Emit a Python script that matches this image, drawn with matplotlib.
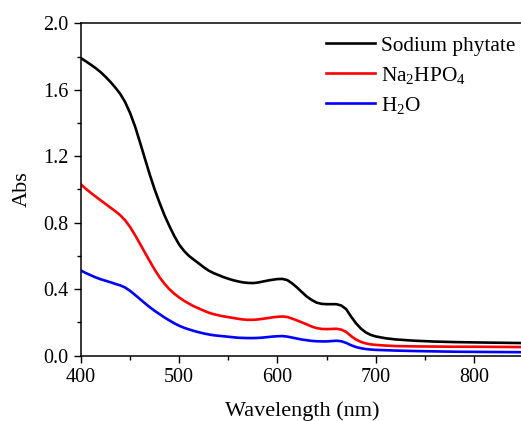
import matplotlib
matplotlib.use("Agg")
import matplotlib.pyplot as plt
from matplotlib.ticker import MultipleLocator

plt.rcParams['font.family'] = ['Liberation Serif', 'DejaVu Serif']
plt.rcParams['mathtext.fontset'] = 'custom'
plt.rcParams['mathtext.rm'] = 'Liberation Serif'
plt.rcParams['mathtext.it'] = 'Liberation Serif:italic'

wavelength = list(range(400, 705, 5)) + [710, 720, 740, 760, 780, 800, 825, 850]

sodium_phytate = [
    # 400-540
    1.79, 1.771, 1.751, 1.73, 1.706, 1.678, 1.647, 1.613, 1.575, 1.525, 1.46, 1.38, 1.285,
    1.187, 1.09, 1.0, 0.92, 0.845, 0.78, 0.72, 0.668, 0.63, 0.60, 0.577, 0.555, 0.532,
    0.512, 0.497, 0.485,
    # 545-585
    0.473, 0.463, 0.454, 0.447, 0.441, 0.438, 0.437, 0.44, 0.446,
    # 590-700
    0.452, 0.457, 0.461, 0.462, 0.455, 0.435, 0.41, 0.382, 0.355, 0.335, 0.319, 0.312,
    0.31, 0.31, 0.31, 0.302, 0.28, 0.235, 0.195, 0.163, 0.14, 0.125, 0.116,
    # 710-850
    0.105, 0.098, 0.09, 0.085, 0.082, 0.08, 0.078, 0.076]

na2hpo4 = [
    1.03, 1.004, 0.98, 0.957, 0.935, 0.913, 0.891, 0.869, 0.845, 0.814, 0.774, 0.726, 0.674,
    0.621, 0.569, 0.518, 0.472, 0.433, 0.4, 0.373, 0.35, 0.33, 0.313, 0.297, 0.284, 0.271,
    0.259, 0.25, 0.243,
    0.237, 0.232, 0.227, 0.222, 0.218, 0.216, 0.216, 0.218, 0.222,
    0.226, 0.231, 0.234, 0.236, 0.233, 0.223, 0.212, 0.2, 0.188, 0.175, 0.166, 0.161,
    0.16, 0.161, 0.162, 0.157, 0.143, 0.118, 0.097, 0.083, 0.074, 0.068, 0.065,
    0.061, 0.058, 0.056, 0.055, 0.054, 0.054, 0.053, 0.052]

h2o = [
    0.512, 0.497, 0.484, 0.471, 0.46, 0.451, 0.442, 0.432, 0.423, 0.41, 0.39, 0.366, 0.341,
    0.316, 0.292, 0.27, 0.25, 0.23, 0.212, 0.195, 0.18, 0.168, 0.158, 0.149, 0.141, 0.134,
    0.128, 0.123, 0.12,
    0.117, 0.114, 0.111, 0.108, 0.107, 0.106, 0.106, 0.107, 0.109,
    0.112, 0.115, 0.117, 0.118, 0.115, 0.109, 0.103, 0.097, 0.093, 0.089, 0.087, 0.086,
    0.086, 0.088, 0.09, 0.087, 0.077, 0.063, 0.052, 0.045, 0.04, 0.037, 0.035,
    0.033, 0.031, 0.028, 0.026, 0.024, 0.023, 0.022, 0.021]

labels = ['Sodium phytate', r'Na$_\mathregular{2}$HPO$_\mathregular{4}$', r'H$_\mathregular{2}$O']
colors = ['black', 'red', 'blue']

fig = plt.figure(figsize=(5.21, 4.21), dpi=100)
W, H = 521, 421
ax = fig.add_axes([81 / W, (H - 355.7) / H, (523 - 81) / W, (355.7 - 23.3) / H])

for y, lab, c in zip([sodium_phytate, na2hpo4, h2o], labels, colors):
    ax.plot(wavelength, y, color=c, lw=1.9, label=lab)

ax.set_xlim(400, 850)
ax.set_ylim(0, 2.0)
ax.xaxis.set_major_locator(MultipleLocator(100))
ax.xaxis.set_minor_locator(MultipleLocator(50))
ax.yaxis.set_major_locator(MultipleLocator(0.4))
ax.yaxis.set_minor_locator(MultipleLocator(0.2))
ax.set_yticks(ax.get_yticks())
ax.set_yticklabels([f'{v:.1f}' for v in ax.get_yticks()])
ax.set_ylim(0, 2.0)

ax.tick_params(axis='both', which='major', direction='out', length=5, width=1,
               labelsize=14.5, pad=4)
ax.tick_params(axis='both', which='minor', direction='out', length=3, width=1)
ax.tick_params(axis='x', which='both', top=False)
for s in ax.spines.values():
    s.set_linewidth(1.1)

ax.set_xlabel('Wavelength (nm)', fontsize=16, labelpad=10)
ax.set_ylabel('Abs', fontsize=16, labelpad=8)

leg = ax.legend(loc='upper left', bbox_to_anchor=(326 / W, 1 - 36 / H),
                bbox_transform=fig.transFigure, frameon=False, fontsize=15.3,
                handlelength=2.3, handletextpad=0.3, labelspacing=0.42,
                borderpad=0, borderaxespad=0)

fig.savefig('out.png', dpi=100)
